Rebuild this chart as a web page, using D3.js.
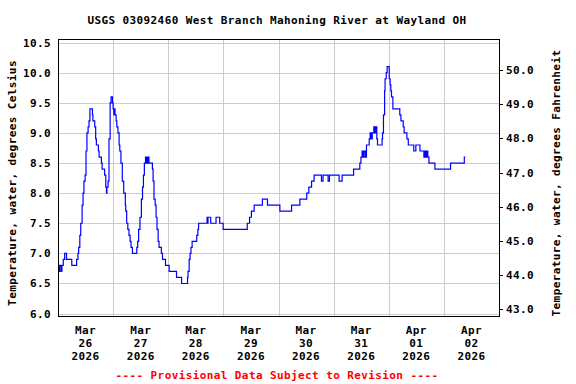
<!DOCTYPE html>
<html>
<head>
<meta charset="utf-8">
<script src="https://cdn.jsdelivr.net/npm/d3@7"></script>
<style>
  body { margin: 0; background: #fff; }
  text { font-family: "DejaVu Sans Mono", "Liberation Mono", monospace; font-weight: bold; font-size: 11px; letter-spacing: 0.4px; }
</style>
</head>
<body>
<div id="chart"></div>
<script>
// hours after 2026-03-26 00:00 where the reading changes, and the reading (deg C)
const hours = [
  0, 0.7, 1.3, 1.7, 2.3, 2.9, 3.7, 6.0, 8.1, 8.7,
  9.0, 9.5, 9.9, 10.5, 10.9, 11.3, 11.8, 12.2, 12.6, 13.1,
  13.5, 13.9, 15.0, 15.2, 16.0, 16.4, 16.7, 17.6, 17.9, 18.9,
  19.2, 20.3, 20.8, 21.1, 21.3, 21.8, 22.2, 22.7, 23.1, 23.7,
  24.0, 24.3, 24.6, 24.8, 25.3, 25.6, 26.1, 26.6, 26.9, 27.4,
  28.0, 28.6, 29.3, 29.5, 29.9, 30.4, 30.9, 31.4, 31.8, 32.4,
  34.3, 34.7, 35.1, 35.7, 36.3, 36.8, 37.2, 37.6, 38.1, 38.4,
  38.7, 39.1, 39.4, 39.6, 41.1, 41.4, 41.8, 42.3, 42.7, 43.1,
  43.6, 44.0, 45.0, 45.5, 46.8, 48.4, 51.6, 53.8, 56.4, 56.6,
  57.1, 57.5, 57.9, 58.4, 60.4, 60.9, 61.2, 64.9, 65.2, 65.3,
  66.5, 68.8, 70.4, 71.9, 82.4, 83.4, 84.2, 85.4, 89.0, 91.2,
  96.6, 101.7, 105.3, 108.3, 109.2, 110.4, 111.5, 114.7, 115.4, 117.6,
  118.2, 122.4, 123.7, 128.7, 131.4, 131.9, 132.4, 132.9, 133.3, 133.9,
  134.3, 135.5, 135.9, 136.3, 136.8, 137.5, 138.0, 138.4, 138.8, 139.1,
  141.1, 141.3, 141.7, 142.2, 142.4, 142.9, 143.3, 144.2, 144.6, 144.9,
  145.2, 145.8, 148.8, 149.3, 150.3, 150.7, 151.9, 152.5, 154.9, 155.8,
  157.6, 159.3, 159.7, 160.2, 160.6, 161.0, 161.5, 164.1, 170.9, 176.9,
  177.3
];
const tempC = [
  6.7, 6.8, 6.7, 6.8, 6.9, 7.0, 6.9, 6.8, 6.9, 7.0,
  7.1, 7.3, 7.5, 7.8, 8.0, 8.2, 8.3, 8.7, 9.0, 9.1,
  9.2, 9.4, 9.3, 9.2, 9.1, 8.9, 8.8, 8.7, 8.6, 8.5,
  8.4, 8.3, 8.1, 8.0, 8.1, 8.2, 8.9, 9.5, 9.6, 9.5,
  9.4, 9.3, 9.4, 9.3, 9.2, 9.1, 9.0, 8.8, 8.7, 8.5,
  8.2, 8.0, 7.8, 7.7, 7.5, 7.4, 7.3, 7.2, 7.1, 7.0,
  7.1, 7.2, 7.4, 7.6, 7.9, 8.1, 8.3, 8.5, 8.6, 8.5,
  8.6, 8.5, 8.6, 8.5, 8.4, 8.2, 7.9, 7.8, 7.6, 7.4,
  7.2, 7.1, 7.0, 6.9, 6.8, 6.7, 6.6, 6.5, 6.6, 6.7,
  6.9, 7.0, 7.1, 7.2, 7.3, 7.4, 7.5, 7.6, 7.5, 7.6,
  7.5, 7.6, 7.5, 7.4, 7.5, 7.6, 7.7, 7.8, 7.9, 7.8,
  7.7, 7.8, 7.9, 8.0, 8.1, 8.2, 8.3, 8.2, 8.3, 8.2,
  8.3, 8.2, 8.3, 8.4, 8.5, 8.6, 8.7, 8.6, 8.7, 8.6,
  8.8, 8.9, 9.0, 8.9, 9.0, 9.1, 9.0, 9.1, 8.9, 8.8,
  8.9, 9.0, 9.3, 9.7, 9.9, 10.0, 10.1, 9.9, 9.8, 9.7,
  9.6, 9.4, 9.3, 9.2, 9.1, 9.0, 8.9, 8.8, 8.7, 8.8,
  8.7, 8.6, 8.7, 8.6, 8.7, 8.6, 8.5, 8.4, 8.5, 8.6,
  8.6
];

const cTicks = [6.0, 6.5, 7.0, 7.5, 8.0, 8.5, 9.0, 9.5, 10.0, 10.5];
const fTicks = [43, 44, 45, 46, 47, 48, 49, 50];
const dayTicks = [
  ["Mar", "26", "2026"], ["Mar", "27", "2026"], ["Mar", "28", "2026"], ["Mar", "29", "2026"],
  ["Mar", "30", "2026"], ["Mar", "31", "2026"], ["Apr", "01", "2026"], ["Apr", "02", "2026"]
];
const title = "USGS 03092460 West Branch Mahoning River at Wayland OH";
const leftLabel = "Temperature, water, degrees Celsius";
const rightLabel = "Temperature, water, degrees Fahrenheit";
const footer = "---- Provisional Data Subject to Revision ----";

const width = 576, height = 384;
const mLeft = 58, mRight = 499, mTop = 39, mBottom = 316;

const t0 = new Date(2026, 2, 26);
const hourMs = 3600 * 1000;
const data = hours.map((h, i) => ({ t: new Date(t0.getTime() + h * hourMs), v: tempC[i] }));

const x = d3.scaleTime()
  .domain([t0, new Date(t0.getTime() + 8 * 24 * hourMs)])
  .range([mLeft, mRight]);
const y = d3.scaleLinear().domain([5.96, 10.56]).range([mBottom, mTop]);
const yF = d3.scaleLinear().domain([42.80, 50.91]).range([mBottom, mTop]);

const svg = d3.select("#chart").append("svg")
  .attr("width", width).attr("height", height);

svg.append("rect").attr("width", width).attr("height", height).attr("fill", "#fff");

// grid
const grid = svg.append("g").attr("stroke", "#cccccc").attr("stroke-width", 1);
grid.selectAll("line.h").data(cTicks).enter().append("line")
  .attr("x1", mLeft).attr("x2", mRight)
  .attr("y1", d => Math.round(y(d)) + 0.5).attr("y2", d => Math.round(y(d)) + 0.5);
grid.selectAll("line.v").data(d3.range(1, 8)).enter().append("line")
  .attr("y1", mTop).attr("y2", mBottom)
  .attr("x1", d => Math.round(x(new Date(t0.getTime() + d * 24 * hourMs))) + 0.5)
  .attr("x2", d => Math.round(x(new Date(t0.getTime() + d * 24 * hourMs))) + 0.5);

// series
const line = d3.line().x(d => x(d.t)).y(d => y(d.v)).curve(d3.curveStepAfter);
svg.append("path").datum(data)
  .attr("d", line)
  .attr("fill", "none").attr("stroke", "#0000ff").attr("stroke-width", 1.2);

// frame
svg.append("rect").attr("x", mLeft + 0.5).attr("y", mTop + 0.5)
  .attr("width", mRight - mLeft).attr("height", mBottom - mTop)
  .attr("fill", "none").attr("stroke", "#000").attr("stroke-width", 1);

// left tick labels
svg.append("g").selectAll("text").data(cTicks).enter().append("text")
  .attr("x", 51).attr("y", d => y(d) + 4)
  .attr("text-anchor", "end")
  .text(d => d.toFixed(1));

// right axis
const rAxis = svg.append("g");
rAxis.selectAll("line").data(fTicks).enter().append("line")
  .attr("x1", mRight + 1).attr("x2", mRight + 4)
  .attr("y1", d => Math.round(yF(d)) + 0.5).attr("y2", d => Math.round(yF(d)) + 0.5)
  .attr("stroke", "#000");
rAxis.selectAll("text").data(fTicks).enter().append("text")
  .attr("x", 506).attr("y", d => yF(d) + 4)
  .text(d => d.toFixed(1));

// bottom date labels at noon
const dl = svg.append("g").selectAll("g").data(dayTicks).enter().append("g")
  .attr("transform", (d, i) => `translate(${x(new Date(t0.getTime() + (i * 24 + 12) * hourMs))},0)`);
[334, 347, 360].forEach((yy, k) => {
  dl.append("text").attr("y", yy).attr("text-anchor", "middle").text(d => d[k]);
});

// title, axis titles, footer
svg.append("text").attr("x", 277).attr("y", 24).attr("text-anchor", "middle").text(title);
svg.append("text").attr("transform", "translate(16,183) rotate(-90)")
  .attr("text-anchor", "middle").text(leftLabel);
svg.append("text").attr("transform", "translate(560,183) rotate(-90)")
  .attr("text-anchor", "middle").text(rightLabel);
svg.append("text").attr("x", 277).attr("y", 379).attr("text-anchor", "middle")
  .attr("fill", "#ff0000").text(footer);
</script>
</body>
</html>
